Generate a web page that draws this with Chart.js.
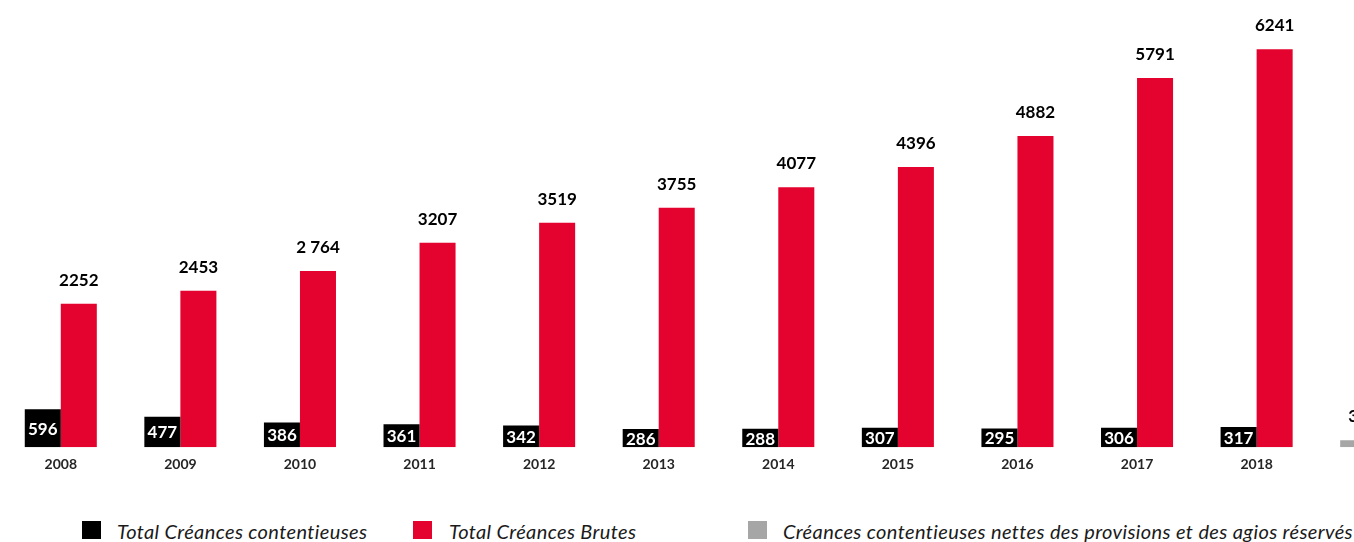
<!DOCTYPE html>
<html lang="fr">
<head>
<meta charset="utf-8">
<title>Créances contentieuses</title>
<script src="https://cdn.jsdelivr.net/npm/chart.js@4.4.1/dist/chart.umd.min.js"></script>
<style>
  html, body { margin:0; padding:0; background:#fff; width:1354px; height:542px; overflow:hidden; }
  #wrap { position:relative; width:1354px; height:542px; overflow:hidden; }
  #chart { position:absolute; left:0; top:0; }
  .box { position:absolute; top:521px; width:19px; height:18px; }
  .txt { position:absolute; top:521px; font:italic 20px/1 Lato, sans-serif; letter-spacing:0.38px; color:#1a1a1a; white-space:nowrap; }
</style>
</head>
<body>
<div id="wrap">
  <canvas id="chart" width="1436" height="490"></canvas>
  <div class="box" style="left:82px;background:#000"></div>
  <div class="txt" style="left:117px">Total Créances contentieuses</div>
  <div class="box" style="left:413px;background:#e4032e"></div>
  <div class="txt" style="left:449px">Total Créances Brutes</div>
  <div class="box" style="left:748px;background:#a6a6a6"></div>
  <div class="txt" style="left:783px">Créances contentieuses nettes des provisions et des agios réservés</div>
</div>
<script>
// données (la dernière catégorie est coupée à droite)
const annees = ['2008','2009','2010','2011','2012','2013','2014','2015','2016','2017','2018',''];
const contentieuses = [596, 477, 386, 361, 342, 286, 288, 307, 295, 306, 317, null];
const brutes = [2252, 2453, 2764, 3207, 3519, 3755, 4077, 4396, 4882, 5791, 6241, null];
const nettes = [null, null, null, null, null, null, null, null, null, null, null, 35];
const etiquettesBrutes = ['2252','2453','2 764','3207','3519','3755','4077','4396','4882','5791','6241',''];

const NOIR = '#000000';
const ROUGE = '#e4032e';
const GRIS = '#a6a6a6';

// étiquettes de valeurs (blanches dans les barres noires, noires au-dessus des autres)
const etiquettes = {
  id: 'etiquettes',
  afterDatasetsDraw(chart){
    const ctx = chart.ctx;
    ctx.save();
    ctx.font = 'bold 17px Lato';
    ctx.textAlign = 'center';
    chart.data.datasets.forEach((ds, i) => {
      const meta = chart.getDatasetMeta(i);
      meta.data.forEach((bar, j) => {
        const v = ds.data[j];
        if(v == null) return;
        if(i === 0){
          ctx.fillStyle = '#fff';
          ctx.textBaseline = 'middle';
          ctx.fillText(String(v), bar.x, (bar.y + bar.base) / 2 + 1);
        }else{
          ctx.fillStyle = '#000';
          ctx.textBaseline = 'alphabetic';
          const txt = i === 1 ? etiquettesBrutes[j] : String(v);
          ctx.fillText(txt, bar.x, bar.y - 18);
        }
      });
    });
    ctx.restore();
  }
};

new Chart(document.getElementById('chart').getContext('2d'), {
  type: 'bar',
  data: {
    labels: annees,
    datasets: [
      { label: 'Total Créances contentieuses', data: contentieuses, backgroundColor: NOIR, stack: 'a' },
      { label: 'Total Créances Brutes', data: brutes, backgroundColor: ROUGE, stack: 'b' },
      { label: 'Créances contentieuses nettes des provisions et des agios réservés', data: nettes, backgroundColor: GRIS, stack: 'a', minBarLength: 7 }
    ]
  },
  options: {
    responsive: false,
    animation: false,
    categoryPercentage: 0.6025,
    barPercentage: 1,
    layout: { padding: { top: 29, left: 1, right: 0, bottom: 8 } },
    scales: {
      x: {
        grid: { display: false, drawTicks: false },
        border: { display: false },
        ticks: { color: '#262626', font: { family: 'Lato', size: 14, weight: 'bold' }, padding: 9, maxRotation: 0, autoSkip: false }
      },
      y: { display: false, min: 0, max: 6560 }
    },
    plugins: { legend: { display: false }, tooltip: { enabled: false } }
  },
  plugins: [etiquettes]
});
</script>
</body>
</html>
